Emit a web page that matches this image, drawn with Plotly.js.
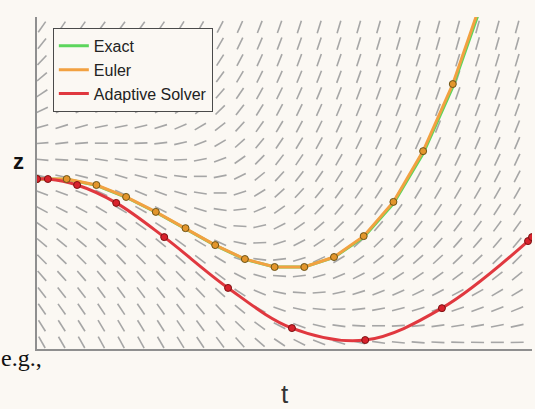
<!DOCTYPE html>
<html><head><meta charset="utf-8">
<script src="https://cdn.plot.ly/plotly-3.0.1.min.js"></script>
<style>html,body{margin:0;padding:0;background:#fbf8f3;}#chart{width:535px;height:409px;}</style>
</head><body><div id="chart"></div>
<script>
// ---- data ----
const seriesNames = ['Exact', 'Euler', 'Adaptive Solver'];
const eulerT = [0, 0.6, 1.2, 1.8, 2.4, 3.0, 3.6, 4.2, 4.8, 5.4, 6.0, 6.6, 7.2, 7.8, 8.4, 9.0];
const eulerZ = [5.12, 5.12, 4.94, 4.58, 4.13, 3.64, 3.13, 2.71, 2.47, 2.47, 2.77, 3.40, 4.43, 5.96, 7.98, 10.57];
const exactT = [0, 0.6, 1.2, 1.8, 2.4, 3.0, 3.6, 4.2, 4.8, 5.4, 6.0, 6.6, 7.2, 7.8, 8.4, 9.0];
const exactZ = [5.12, 5.11, 4.93, 4.57, 4.12, 3.63, 3.12, 2.70, 2.47, 2.47, 2.76, 3.37, 4.38, 5.89, 7.89, 10.45];
const adaptiveT = [0, 0.22, 0.81, 1.60, 2.57, 3.86, 5.15, 6.63, 8.18, 9.92, 10.0];
const adaptiveZ = [5.12, 5.12, 4.94, 4.40, 3.37, 1.84, 0.63, 0.27, 1.23, 3.25, 3.37];

// slope field: sample grid and the zero-slope level (isocline) read per column
const fieldT = [0.1, 0.5, 0.9, 1.3, 1.7, 2.1, 2.5, 2.9, 3.3, 3.7, 4.1, 4.5, 4.9, 5.3, 5.7, 6.1, 6.5, 6.9, 7.3, 7.7, 8.1, 8.5, 8.9, 9.3, 9.7];
const fieldZ = [0.2, 0.7, 1.2, 1.7, 2.2, 2.7, 3.2, 3.7, 4.2, 4.7, 5.2, 5.7, 6.2, 6.7, 7.2, 7.7, 8.2, 8.7, 9.2, 9.7];
const fieldZeroZ = [6.0, 5.9, 6.0, 6.2, 6.2, 6.1, 5.9, 5.6, 5.2, 4.7, 3.9, 3.1, 2.4, 1.9, 1.5, 1.15, 0.9, 0.7, 0.55, 0.45, 0.35, 0.3, 0.25, 0.2, 0.15];
const fieldGainAbove = 0.58;
const fieldGainBelow = 0.45;

// ---- layout geometry ----
const W = 535, H = 409;
const M = {l: 37, r: 3, t: 17, b: 60, pad: 0};
const xRange = [0, 10], yRange = [0, 10];
const pxPerT = (W - M.l - M.r) / (xRange[1] - xRange[0]);
const pxPerZ = (H - M.t - M.b) / (yRange[1] - yRange[0]);
const dashHalf = 6.5; // px

const fx = [], fy = [];
fieldT.forEach((t, c) => {
  fieldZ.forEach(z => {
    const d = z - fieldZeroZ[c];
    const m = (d >= 0 ? fieldGainAbove : fieldGainBelow) * d; // dz/dt
    const th = Math.atan(m * pxPerZ / pxPerT);
    const dt = dashHalf * Math.cos(th) / pxPerT;
    const dz = dashHalf * Math.sin(th) / pxPerZ;
    fx.push(t - dt, t + dt, null);
    fy.push(z - dz, z + dz, null);
  });
});

const cGreen = '#5cd65c', cOrange = '#f2a141', cRed = '#e0383f';

const traces = [
  {x: fx, y: fy, mode: 'lines', line: {color: '#a6a6a6', width: 1.6}, showlegend: false, hoverinfo: 'skip'},
  {x: exactT, y: exactZ, name: seriesNames[0], mode: 'lines', line: {color: cGreen, width: 3}},
  {x: eulerT, y: eulerZ, name: seriesNames[1], mode: 'lines', line: {color: cOrange, width: 3}},
  {x: adaptiveT, y: adaptiveZ, name: seriesNames[2], mode: 'lines', line: {color: cRed, width: 3, shape: 'spline'}},
  {x: eulerT, y: eulerZ, mode: 'markers', showlegend: false,
   marker: {color: '#e3962c', size: 7, line: {color: '#6b5418', width: 1}}},
  {x: adaptiveT, y: adaptiveZ, mode: 'markers', showlegend: false,
   marker: {color: '#d8222c', size: 7, line: {color: '#7a1212', width: 1}}}
];

const layout = {
  width: W, height: H, margin: M,
  paper_bgcolor: '#fbf8f3', plot_bgcolor: '#fbf8f3',
  font: {family: 'Liberation Sans, Arial, sans-serif', color: '#222'},
  showlegend: true,
  legend: {x: 0.032, y: 0.967, xanchor: 'left', yanchor: 'top',
           bgcolor: '#fbf8f3', bordercolor: '#4a4a4a', borderwidth: 1,
           font: {size: 16, color: '#222'}, itemwidth: 30},
  xaxis: {range: xRange, showgrid: false, zeroline: false, showticklabels: false, ticks: '',
          showline: true, linecolor: '#8f8f8f', linewidth: 2, fixedrange: true,
          title: {text: 't', font: {size: 26, color: '#333'}, standoff: 36}},
  yaxis: {range: yRange, showgrid: false, zeroline: false, showticklabels: false, ticks: '',
          showline: true, linecolor: '#8f8f8f', linewidth: 2, fixedrange: true},
  annotations: [
    {text: '<b>z</b>', xref: 'paper', yref: 'paper', x: -0.037, y: 0.565,
     xanchor: 'center', yanchor: 'middle', showarrow: false, font: {size: 22, color: '#111'}},
    {text: 'e.g.,', xref: 'paper', yref: 'paper', x: 0.014, y: -0.028,
     xanchor: 'right', yanchor: 'middle', showarrow: false,
     font: {size: 24, family: 'Liberation Serif, Times New Roman, serif', color: '#111'}}
  ]
};

Plotly.newPlot('chart', traces, layout, {staticPlot: true, displayModeBar: false});
</script></body></html>
